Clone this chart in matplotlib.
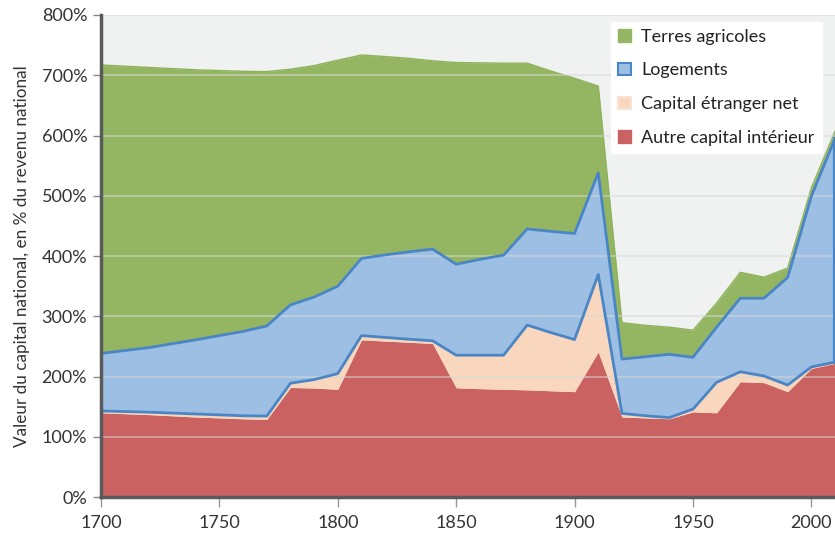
import numpy as np
import matplotlib.pyplot as plt
from matplotlib.patches import Patch

## data (% of national income)
years = [1700, 1720, 1740, 1760, 1770, 1780, 1790, 1800, 1810, 1820, 1830, 1840,
         1850, 1860, 1870, 1880, 1890, 1900, 1910, 1920, 1930, 1940, 1950, 1960,
         1970, 1980, 1990, 2000, 2010]
autre_capital = [140, 137, 133, 130, 129, 182, 181, 179, 261, 259, 257, 255,
                 181.5, 180, 179, 178, 176.5, 175, 241, 133, 131.5, 130, 141.5, 140,
                 191.5, 190, 175, 213.5, 222]
capital_etranger = [3, 4, 5, 5, 5.5, 7, 14, 26, 7, 6, 5, 4.5,
                    54, 55.5, 56.5, 107.5, 96.5, 86.5, 128.5, 6, 3.5, 2, 4.5, 50.5,
                    16.5, 11, 11, 2.5, 2]
logements = [95.5, 107, 123, 140, 149.5, 130, 137, 145, 128, 137, 145, 152,
             151, 159, 166, 159.5, 168, 176, 168.5, 90, 98, 105, 86, 91.5,
             122, 129, 178.5, 283, 371]
terres = [478.5, 465, 448, 431.5, 422, 391, 384, 375, 337.5, 329, 321, 312.5,
          334.5, 326, 318.5, 275, 266, 257.5, 144, 60.5, 52, 45, 45, 40,
          43, 35, 15.5, 14, 12]

labels = ['Terres agricoles', 'Logements', 'Capital étranger net', 'Autre capital intérieur']
yticks = [0, 100, 200, 300, 400, 500, 600, 700, 800]
xticks = [1700, 1750, 1800, 1850, 1900, 1950, 2000]

c_red = '#cb6262'
c_orange = '#f8d7be'
c_blue = '#9dbfe3'
c_blue_line = '#4a86c5'
c_green = '#94b662'

plt.rcParams['font.family'] = ['Lato', 'DejaVu Sans']

x = np.array(years)
r = np.array(autre_capital)
o = r + np.array(capital_etranger)
b = o + np.array(logements)
g = b + np.array(terres)

fig = plt.figure(figsize=(8.35, 5.34), dpi=100)
ax = fig.add_axes([0.121, 0.069, 0.879, 0.903])
ax.set_facecolor('#f0f1f1')

ax.fill_between(x, 0, r, color=c_red, lw=0, zorder=2)
ax.fill_between(x, r, o, color=c_orange, lw=0, zorder=2)
ax.plot(x, o, color='#f5c6a2', lw=1, zorder=3)
ax.fill_between(x, o, b, color=c_blue, lw=0, zorder=2)
ax.fill_between(x, b, g, color=c_green, lw=0, zorder=2)
ax.plot(x, g, color='#8db35a', lw=1, zorder=3)
ax.plot(x, o, color=c_blue_line, lw=2, zorder=4)
ax.plot(x, b, color=c_blue_line, lw=2, zorder=4)
ax.plot([x[-1], x[-1]], [o[-1], b[-1]], color=c_blue_line, lw=3, zorder=4)

for yv in yticks[1:]:
    ax.axhline(yv, color='#d8d8d8', lw=1.2, alpha=0.6, zorder=3)

ax.set_xlim(1700, 2010)
ax.set_ylim(0, 800)
ax.set_yticks(yticks)
ax.set_yticklabels(['%d%%' % v for v in yticks])
ax.set_xticks(xticks)

for s in ['top', 'right']:
    ax.spines[s].set_visible(False)
for s in ['left', 'bottom']:
    ax.spines[s].set_color('#5a5a5a')
    ax.spines[s].set_linewidth(2.5)
    ax.spines[s].set_zorder(5)
ax.tick_params(axis='y', length=6, width=1, color='#888888', labelsize=13,
               labelcolor='#333333', pad=4)
ax.tick_params(axis='x', length=7, width=1, color='#999999', labelsize=13,
               labelcolor='#333333', pad=6)

ax.set_ylabel('Valeur du capital national, en % du revenu national',
              fontsize=12.3, color='#333333', labelpad=8)

handles = [Patch(facecolor=c_green, edgecolor=c_green),
           Patch(facecolor=c_blue, edgecolor=c_blue_line, lw=1.5),
           Patch(facecolor=c_orange, edgecolor='#fbe3d2', lw=1.5),
           Patch(facecolor=c_red, edgecolor=c_red)]
leg = ax.legend(handles, labels, loc='upper right', bbox_to_anchor=(0.9946, 1.005),
                fontsize=13, frameon=True, fancybox=False, handlelength=0.7,
                handleheight=0.7, handletextpad=0.6, labelspacing=0.98,
                borderpad=0.4, labelcolor='#222222')
leg.get_frame().set_facecolor('white')
leg.get_frame().set_edgecolor('white')
leg.get_frame().set_alpha(1)
leg.set_zorder(6)

plt.savefig('out.png', dpi=100)
